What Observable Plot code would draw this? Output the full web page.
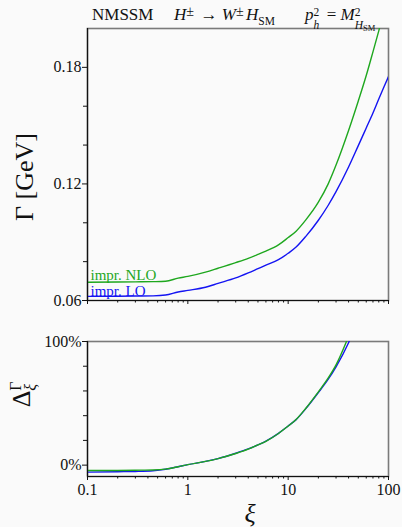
<!DOCTYPE html>
<html><head><meta charset="utf-8">
<script src="https://cdn.jsdelivr.net/npm/d3@7"></script>
<script src="https://cdn.jsdelivr.net/npm/@observablehq/plot@0.6"></script>
<style>
html,body{margin:0;padding:0;background:#fafafa;}
#c{position:relative;width:402px;height:527px;overflow:hidden;font-family:"Liberation Serif",serif;color:#111;}
#c svg text{font-family:"Liberation Serif",serif;}
.abs{position:absolute;white-space:nowrap;}
.t{font-size:17px;line-height:20px;top:5px;}
.ss{display:inline-block;position:relative;height:0;vertical-align:baseline;}
.ss .u{position:absolute;left:0;bottom:2.7px;font-size:11.5px;line-height:10px;}
.ss .d{position:absolute;left:0;top:0px;font-size:11.5px;line-height:10px;}
.ss .pm{font-size:14px;bottom:3px;}
.sm{font-size:8.5px;position:relative;top:2px;}
.ylab{transform:translate(-50%,-50%) rotate(-90deg);transform-origin:center;}
</style></head><body><div id="c"></div>
<script>
// ---- data ----
const xi       = [0.1, 0.2, 0.3, 0.45, 0.6, 0.8, 1, 1.5, 2, 3, 4, 5, 6, 8, 10, 12, 15, 20, 25, 30, 40, 50, 60, 70, 80, 90, 100];
const gammaNLO = [0.0694,0.0695,0.0696,0.0697,0.0699,0.0715,0.0724,0.0746,0.0766,0.0795,0.0817,0.0837,0.0854,0.0886,0.0924,0.0957,0.1015,0.1106,0.1199,0.1297,0.1475,0.1627,0.1758,0.1880,0.1988,0.2088,0.2179];
const gammaLO  = [0.0621,0.0622,0.0623,0.0624,0.0628,0.0644,0.0652,0.0668,0.0688,0.0716,0.0742,0.0764,0.0782,0.0810,0.0843,0.0875,0.0930,0.1013,0.1089,0.1160,0.1287,0.1397,0.1488,0.1565,0.1637,0.1699,0.1753];
const deltaLO  = [-5.7,-5.3,-5.1,-4.5,-3.3,-1.3,0.4,3.0,5.3,9.6,13.1,16.4,19.4,25.7,31.7,36.8,45.7,58.7,69.3,79.5,99.0,118,null,null,null,null,null];
const deltaNLO = [-4.4,-4.3,-4.1,-3.9,-3.2,-1.3,0.4,3.0,5.3,9.4,12.9,16.3,19.3,25.6,31.6,36.9,46.0,59.3,70.3,81.1,104.2,125,null,null,null,null,null];
const seriesNames = ["impr. NLO", "impr. LO"];
const xMajor = [0.1, 1, 10, 100];
const xMinor = [0.2,0.3,0.4,0.5,0.6,0.7,0.8,0.9,2,3,4,5,6,7,8,9,20,30,40,50,60,70,80,90];
const gammaTicks = [0.06, 0.12, 0.18];
const gammaMinor = [0.08, 0.10, 0.14, 0.16];
const deltaTicks = [0, 100];
const deltaMinor = [20, 40, 60, 80];

const rows = xi.map((x, i) => ({xi: x, lo: gammaLO[i], nlo: gammaNLO[i], dlo: deltaLO[i], dnlo: deltaNLO[i]}));
const GREEN = "#1ea71e", BLUE = "#1414f2";

const common = {
  width: 402, marginLeft: 87, marginRight: 14,
  x: {type: "log", domain: [0.1, 100]},
  style: {fontFamily: "'Liberation Serif', serif", fontSize: "16px", background: "transparent", color: "#111", overflow: "visible"}
};

const topPlot = Plot.plot({
  ...common, height: 315, marginTop: 28, marginBottom: 15,
  y: {domain: [0.06, 0.2]},
  marks: [
    Plot.frame({stroke: "#7a7a7a", strokeWidth: 1.6}),
    Plot.line(rows, {x: "xi", y: "nlo", stroke: GREEN, strokeWidth: 1.4, curve: "monotone-x", clip: true}),
    Plot.line(rows, {x: "xi", y: "lo", stroke: BLUE, strokeWidth: 1.4, curve: "monotone-x", clip: true}),
    Plot.text(rows.slice(0, 1), {x: "xi", y: "nlo", text: () => seriesNames[0], textAnchor: "start", lineAnchor: "bottom", dx: 3, dy: -2.7, fill: GREEN, fontSize: 15}),
    Plot.text(rows.slice(0, 1), {x: "xi", y: "lo", text: () => seriesNames[1], textAnchor: "start", lineAnchor: "bottom", dx: 3, dy: -0.5, fill: BLUE, fontSize: 15}),
    Plot.ruleX([0.1], {stroke: "#111", strokeWidth: 1.2}),
    Plot.ruleY([0.06], {stroke: "#111", strokeWidth: 1.2}),
    Plot.axisY(gammaTicks, {tickSize: 5, tickPadding: 1, tickFormat: d => d.toFixed(2), label: null}),
    Plot.axisY(gammaMinor, {tickSize: 4, fill: null, label: null}),
    Plot.axisX(xMajor, {tickSize: 4, fill: null, label: null}),
    Plot.axisX(xMinor, {tickSize: 2.5, fill: null, label: null})
  ]
});

const botPlot = Plot.plot({
  ...common, height: 207, marginTop: 21, marginBottom: 51,
  y: {domain: [-9.2, 100]},
  marks: [
    Plot.frame({stroke: "#7a7a7a", strokeWidth: 1.6}),
    Plot.line(rows, {x: "xi", y: "dlo", stroke: BLUE, strokeWidth: 1.4, curve: "monotone-x", clip: true}),
    Plot.line(rows, {x: "xi", y: "dnlo", stroke: GREEN, strokeWidth: 1.4, curve: "monotone-x", clip: true}),
    Plot.ruleX([0.1], {stroke: "#111", strokeWidth: 1.2}),
    Plot.ruleY([-9.2], {stroke: "#111", strokeWidth: 1.2}),
    Plot.axisY(deltaTicks, {tickSize: 5, tickPadding: 1, tickFormat: d => d + "%", label: null}),
    Plot.axisY(deltaMinor, {tickSize: 4, fill: null, label: null}),
    Plot.axisX(xMajor, {tickSize: 4, tickPadding: 3, tickFormat: d => String(d), label: null}),
    Plot.axisX(xMinor, {tickSize: 2.5, fill: null, label: null})
  ]
});

const c = document.getElementById("c");
topPlot.style.position = "absolute"; topPlot.style.left = "0px"; topPlot.style.top = "0px";
botPlot.style.position = "absolute"; botPlot.style.left = "0px"; botPlot.style.top = "320px";
c.appendChild(topPlot);
c.appendChild(botPlot);

const overlay = `
<div class="abs t" style="left:92px">NMSSM</div>
<div class="abs t" style="left:174px"><i>H</i><span class="ss" style="width:10px"><span class="u pm">±</span></span> → <i>W</i><span class="ss" style="width:10px"><span class="u pm">±</span></span><i>H</i><span class="ss" style="width:17px"><span class="d" style="top:-4px">SM</span></span></div>
<div class="abs t" style="left:305px"><i>p</i><span class="ss" style="width:9px"><span class="u">2</span><span class="d"><i>h</i></span></span> = <i>M</i><span class="ss" style="width:28px"><span class="u">2</span><span class="d"><i>H</i><span class="sm">SM</span></span></span></div>
<div class="abs ylab" style="left:25px;top:177px;font-size:26px;">Γ [GeV]</div>
<div class="abs ylab" style="left:22px;top:393px;font-size:26px;">Δ<span class="ss" style="width:12px"><span class="u" style="font-size:16px;line-height:14px;bottom:7px">Γ</span><span class="d" style="font-size:16px;line-height:14px;top:-6px"><i>ξ</i></span></span></div>
<div class="abs" style="left:250px;top:514px;transform:translate(-50%,-50%);font-size:26px;"><i>ξ</i></div>
`;
c.insertAdjacentHTML("beforeend", overlay);
</script>
</body></html>
